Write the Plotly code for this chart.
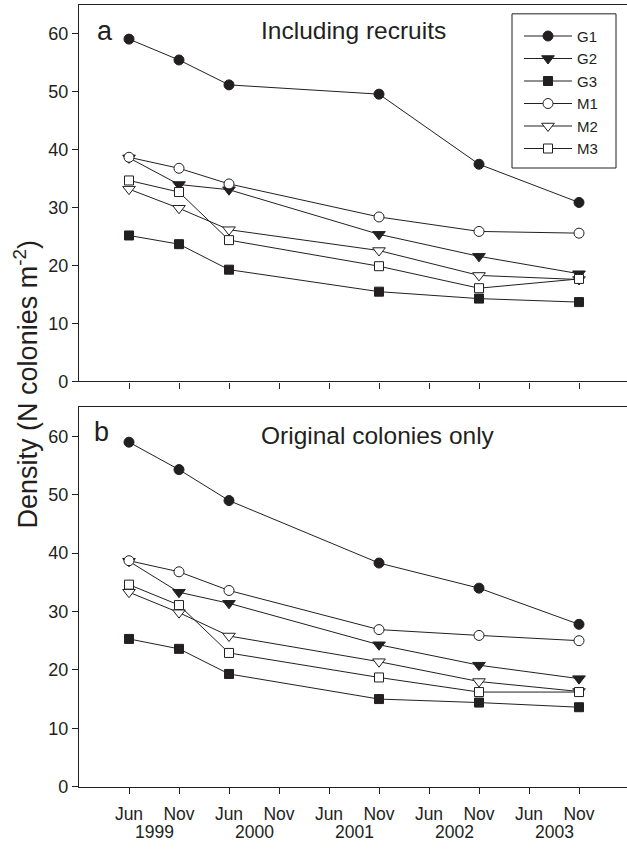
import plotly.graph_objects as go

# ---- data ----
periods = ["Jun 1999", "Nov 1999", "Jun 2000", "Nov 2000", "Jun 2001",
           "Nov 2001", "Jun 2002", "Nov 2002", "Jun 2003", "Nov 2003"]
month_labels = ["Jun", "Nov", "Jun", "Nov", "Jun", "Nov", "Jun", "Nov", "Jun", "Nov"]
year_labels = ["1999", "2000", "2001", "2002", "2003"]
sample_dates = ["Jun 1999", "Nov 1999", "Jun 2000", "Nov 2001", "Nov 2002", "Nov 2003"]

series_names = ["G1", "G2", "G3", "M1", "M2", "M3"]

# Panel a: including recruits
G1_a = [59.1, 55.5, 51.2, 49.6, 37.5, 30.9]
G2_a = [38.6, 34.0, 33.1, 25.4, 21.6, 18.6]
G3_a = [25.2, 23.7, 19.3, 15.5, 14.3, 13.7]
M1_a = [38.7, 36.8, 34.1, 28.4, 25.9, 25.6]
M2_a = [33.2, 29.9, 26.2, 22.6, 18.3, 17.6]
M3_a = [34.7, 32.7, 24.4, 19.9, 16.1, 17.7]

# Panel b: original colonies only
G1_b = [59.0, 54.3, 49.0, 38.3, 34.0, 27.8]
G2_b = [38.6, 33.3, 31.4, 24.3, 20.8, 18.5]
G3_b = [25.3, 23.6, 19.3, 15.0, 14.4, 13.6]
M1_b = [38.7, 36.8, 33.6, 26.9, 25.9, 25.0]
M2_b = [33.3, 29.8, 25.8, 21.4, 18.0, 16.3]
M3_b = [34.6, 31.1, 22.9, 18.7, 16.2, 16.2]

panel_a = [G1_a, G2_a, G3_a, M1_a, M2_a, M3_a]
panel_b = [G1_b, G2_b, G3_b, M1_b, M2_b, M3_b]

# ---- styles ----
FONT = "Liberation Sans, Arial, Helvetica, sans-serif"
INK = "#231f20"
styles = {
    "G1": dict(symbol="circle", color=INK, size=10),
    "G2": dict(symbol="triangle-down", color=INK, size=11),
    "G3": dict(symbol="square", color=INK, size=9),
    "M1": dict(symbol="circle", color="white", size=10),
    "M2": dict(symbol="triangle-down", color="white", size=11),
    "M3": dict(symbol="square", color="white", size=9),
}

x_vals = [periods.index(d) for d in sample_dates]

fig = go.Figure()

for name, ys in zip(series_names, panel_a):
    st = styles[name]
    fig.add_trace(go.Scatter(
        x=x_vals, y=ys, name=name, mode="lines+markers",
        xaxis="x", yaxis="y",
        line=dict(color=INK, width=1),
        marker=dict(symbol=st["symbol"], color=st["color"], size=st["size"],
                    line=dict(color=INK, width=1)),
        showlegend=True,
    ))

for name, ys in zip(series_names, panel_b):
    st = styles[name]
    fig.add_trace(go.Scatter(
        x=x_vals, y=ys, name=name, mode="lines+markers",
        xaxis="x2", yaxis="y2",
        line=dict(color=INK, width=1),
        marker=dict(symbol=st["symbol"], color=st["color"], size=st["size"],
                    line=dict(color=INK, width=1)),
        showlegend=False,
    ))

W, H = 627, 850
x_dom = [79 / W, 1.0]
ya_dom = [1 - 386 / H, 1 - 5 / H]
yb_dom = [1 - 796 / H, 1 - 412 / H]

common_x = dict(
    range=[-1, 9.96], tickmode="array", tickvals=list(range(len(periods))),
    ticks="outside", ticklen=6, tickwidth=1, tickcolor=INK,
    showline=True, linecolor=INK, linewidth=1.2, mirror=True,
    showgrid=False, zeroline=False, domain=x_dom,
    tickfont=dict(family=FONT, size=17.5, color=INK),
)
common_y = dict(
    range=[0, 65], tickmode="array", tickvals=[0, 10, 20, 30, 40, 50, 60],
    ticks="outside", ticklen=6, tickwidth=1, tickcolor=INK,
    showline=True, linecolor=INK, linewidth=1.2,
    showgrid=False, zeroline=False,
    tickfont=dict(family=FONT, size=18, color=INK),
)

fig.update_layout(
    width=W, height=H, autosize=False,
    margin=dict(l=0, r=0, t=0, b=0),
    paper_bgcolor="white", plot_bgcolor="white",
    font=dict(family=FONT, color=INK),
    xaxis=dict(**common_x, anchor="y", showticklabels=False),
    yaxis=dict(**common_y, domain=ya_dom, anchor="x"),
    xaxis2=dict(**common_x, anchor="y2", ticktext=month_labels, ticklabelstandoff=5),
    yaxis2=dict(**common_y, domain=yb_dom, anchor="x2"),
    legend=dict(
        x=519 / W, y=1 - 20 / H, xanchor="left", yanchor="top",
        borderwidth=0, bgcolor="rgba(0,0,0,0)",
        font=dict(family=FONT, size=15, color=INK),
        tracegroupgap=0, itemwidth=48,
    ),
    showlegend=True,
    shapes=[dict(type="rect", xref="paper", yref="paper",
                 x0=512 / W, x1=616 / W, y0=1 - 170 / H, y1=1 - 14 / H,
                 line=dict(color=INK, width=1), layer="above")],
)

annotations = []
# panel letters and titles
annotations.append(dict(text="a", x=105 / W, y=1 - 31 / H, xref="paper", yref="paper",
                        showarrow=False, xanchor="center", yanchor="middle",
                        font=dict(family=FONT, size=27, color=INK)))
annotations.append(dict(text="Including recruits", x=259 / W, y=1 - 31 / H,
                        xref="paper", yref="paper", showarrow=False,
                        xanchor="left", yanchor="middle",
                        font=dict(family=FONT, size=24.5, color=INK)))
annotations.append(dict(text="b", x=101 / W, y=1 - 437 / H, xref="paper", yref="paper",
                        showarrow=False, xanchor="center", yanchor="middle",
                        font=dict(family=FONT, size=27, color=INK)))
annotations.append(dict(text="Original colonies only", x=259 / W, y=1 - 441 / H,
                        xref="paper", yref="paper", showarrow=False,
                        xanchor="left", yanchor="middle",
                        font=dict(family=FONT, size=24.5, color=INK)))
# y axis title
annotations.append(dict(text="Density (N colonies m<sup>-2</sup>)", x=26 / W, y=1 - 389 / H,
                        xref="paper", yref="paper", showarrow=False, textangle=-90,
                        xanchor="center", yanchor="middle",
                        font=dict(family=FONT, size=27, color=INK)))
# year labels centred between Jun and Nov of each year
for yr in year_labels:
    xc = (periods.index("Jun " + yr) + periods.index("Nov " + yr)) / 2
    annotations.append(dict(text=yr, x=xc, y=1 - 842 / H, xref="x2", yref="paper",
                            showarrow=False, xanchor="center", yanchor="middle",
                            font=dict(family=FONT, size=17.5, color=INK)))

fig.update_layout(annotations=annotations)
fig.write_html("out.html",
               config={"displayModeBar": False},
               post_script="document.body.style.margin='0';document.body.style.overflow='hidden';")
